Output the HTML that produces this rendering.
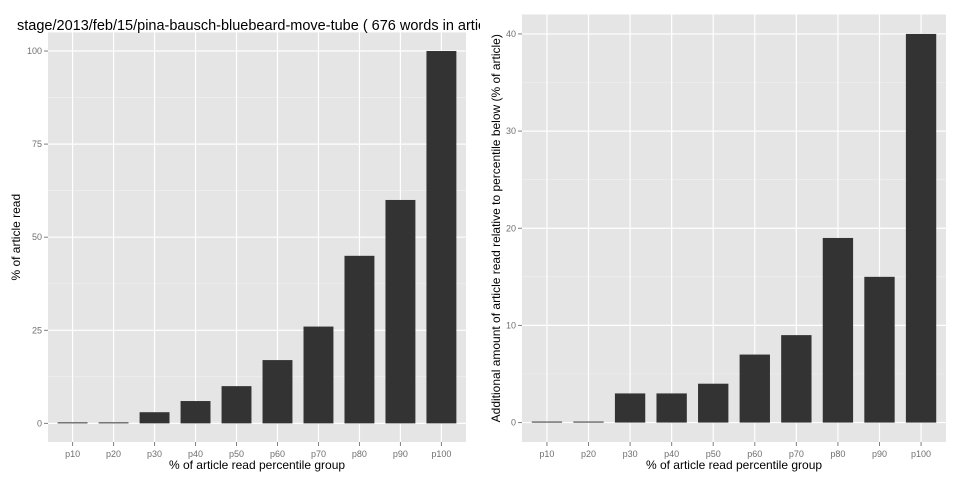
<!DOCTYPE html>
<html><head><meta charset="utf-8"><style>
body{margin:0;background:#fff;font-family:"Liberation Sans",sans-serif}
svg text{font-family:"Liberation Sans",sans-serif}
</style></head><body>
<svg id="c" width="960" height="480"><defs><clipPath id="tc"><rect x="0" y="0" width="480" height="40"/></clipPath></defs></svg>
<script>
const categories=["p10","p20","p30","p40","p50","p60","p70","p80","p90","p100"];
const leftValues=[0,0,3,6,10,17,26,45,60,100];
const rightValues=[0,0,3,3,4,7,9,19,15,40];
const leftTicks=[0,25,50,75,100];
const rightTicks=[0,10,20,30,40];
const svg=document.getElementById('c');
const NS="http://www.w3.org/2000/svg";
function mk(t,a,p){const e=document.createElementNS(NS,t);for(const k in a)e.setAttribute(k,a[k]);(p||svg).appendChild(e);return e;}
function panel(name,x0,x1,y0,y1,ymin,ymax,vals,ticks,ytitle,ytx){
  const g=mk('g',{});
  
  
  mk('rect',{x:x0,y:y0,width:x1-x0,height:y1-y0,fill:'#e5e5e5'},g);
  const ys=v=>y1-(v-ymin)/(ymax-ymin)*(y1-y0);
  const n=categories.length;
  const band=(x1-x0)/(n+0.2);
  const xs=i=>x0+band*(i+0.6);
  for(let i=0;i<ticks.length-1;i++){const m=(ticks[i]+ticks[i+1])/2;mk('line',{x1:x0,x2:x1,y1:ys(m),y2:ys(m),stroke:'#f2f2f2','stroke-width':0.6},g);}
  ticks.forEach(t=>{mk('line',{x1:x0,x2:x1,y1:ys(t),y2:ys(t),stroke:'#fff','stroke-width':1.2},g);
    mk('line',{x1:x0-4,x2:x0,y1:ys(t),y2:ys(t),stroke:'#7f7f7f','stroke-width':1},g);
    const tl=mk('text',{x:x0-6,y:ys(t)+3,'text-anchor':'end','font-size':9,fill:'#6f6f6f'},g);tl.textContent=t;
    });
  categories.forEach((c,i)=>{mk('line',{x1:xs(i),x2:xs(i),y1:y0,y2:y1,stroke:'#fff','stroke-width':1.2},g);});
  categories.forEach((c,i)=>{
    const bw=band*0.73,top=ys(vals[i]),base=ys(0);
    const r=mk('rect',{x:xs(i)-bw/2,y:Math.min(top,base-1),width:bw,height:Math.max(base-top,1),fill:'#333'},g);
    
    mk('line',{x1:xs(i),x2:xs(i),y1:y1,y2:y1+4,stroke:'#7f7f7f'},g);
    const tl=mk('text',{x:xs(i),y:y1+15,'text-anchor':'middle','font-size':9,fill:'#6f6f6f'},g);tl.textContent=c;
    
  });
  const xt=mk('text',{x:(x0+x1)/2,y:y1+27,'text-anchor':'middle','font-size':12,fill:'#000'},g);xt.textContent='% of article read percentile group';
  
  const yt=mk('text',{x:0,y:0,'text-anchor':'middle','font-size':12,fill:'#000',transform:`translate(${ytx},${(y0+y1)/2}) rotate(-90)`},g);yt.textContent=ytitle;
  
}
panel('left-panel',48,466,32.4,442,-5,105,leftValues,leftTicks,'% of article read',20);
panel('right-panel',522,946,14.5,442,-2,42,rightValues,rightTicks,'Additional amount of article read relative to percentile below (% of article)',500);
const t=mk('text',{x:17,y:30,'font-size':14.5,fill:'#000','clip-path':'url(#tc)'});
t.textContent='stage/2013/feb/15/pina-bausch-bluebeard-move-tube ( 676 words in article)';

</script>
</body></html>
